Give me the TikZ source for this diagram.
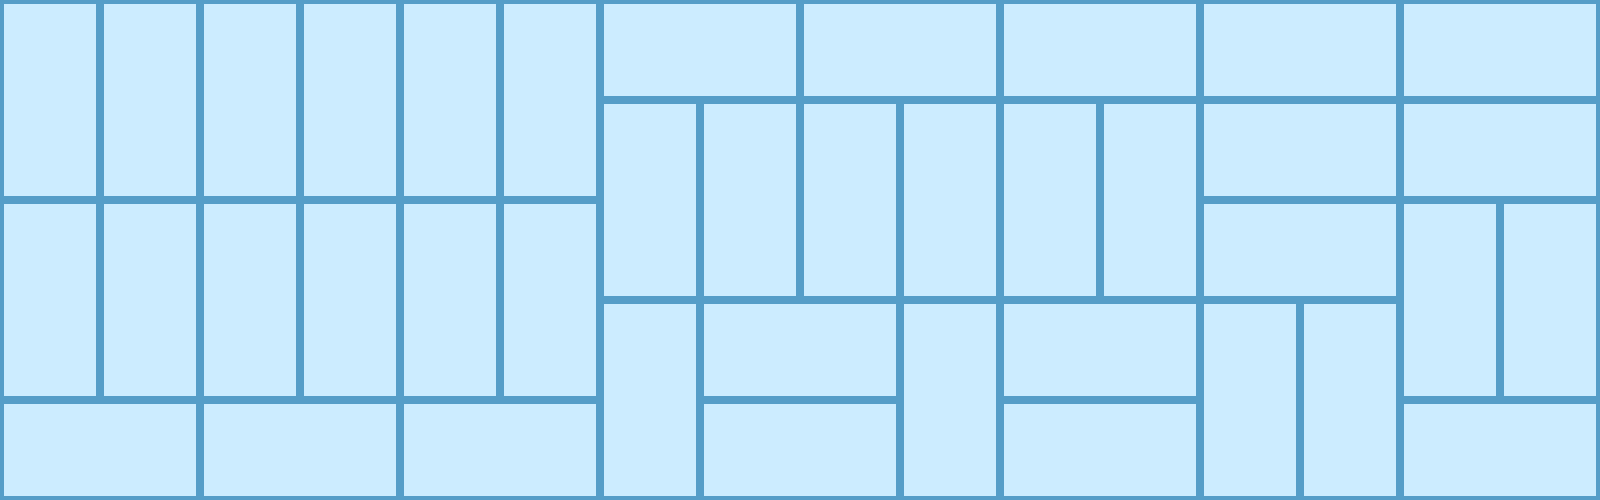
\documentclass[tikz,border=0pt]{standalone}
\usepackage{tikz}

\definecolor{tilefill}{RGB}{204,236,255}
\definecolor{tileline}{RGB}{85,157,200}

\tikzset{
  tile/.style = {draw = tileline, fill = tilefill, line width = 0.08cm},
}

\begin{document}
\begin{tikzpicture}
    \useasboundingbox (0,0) rectangle (16,5);
    \clip (0,0) rectangle (16,5);

    % standing dominoes
    \foreach \x/\y in {0/3, 1/3, 2/3, 3/3, 4/3, 5/3,
                       0/1, 1/1, 2/1, 3/1, 4/1, 5/1,
                       6/2, 7/2, 8/2, 9/2, 10/2, 11/2,
                       14/1, 15/1,
                       6/0, 9/0, 12/0, 13/0}
      \draw[tile] (\x,\y) rectangle ++(1,2);

    % lying dominoes
    \foreach \x/\y in {0/0, 2/0, 4/0,
                       6/4, 8/4, 10/4, 12/4, 14/4,
                       12/3, 14/3, 12/2,
                       7/1, 10/1,
                       7/0, 10/0, 14/0}
      \draw[tile] (\x,\y) rectangle ++(2,1);
\end{tikzpicture}
\end{document}
